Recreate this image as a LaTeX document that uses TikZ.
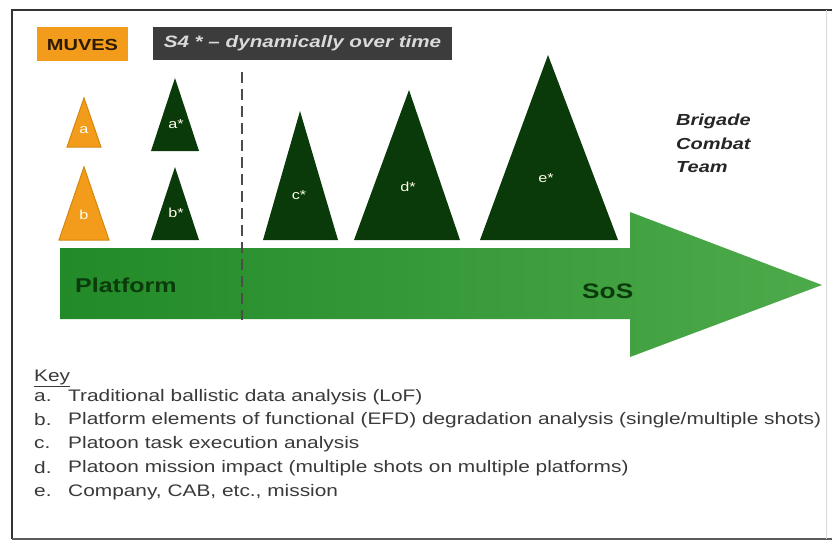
\documentclass[tikz,border=0pt]{standalone}
\usepackage{fontspec}
\setmainfont{Liberation Sans}
\newfontfamily\widesans[FakeStretch=1.25,Ligatures=TeX]{Liberation Sans}
\definecolor{muvesorange}{HTML}{F39C1B}
\definecolor{orangeedge}{HTML}{D4870F}
\definecolor{muvestext}{HTML}{2B1A05}
\definecolor{s4grey}{HTML}{3C3C3C}
\definecolor{s4text}{HTML}{DADADA}
\definecolor{pinegreen}{HTML}{0A3A0A}
\definecolor{arrowdark}{HTML}{228A28}
\definecolor{arrowlight}{HTML}{4DAA4A}
\definecolor{labelgreen}{HTML}{0B3B0B}
\definecolor{keygrey}{HTML}{3A3A3A}
\definecolor{framegrey}{HTML}{333333}
\begin{document}
\begin{tikzpicture}[x=1pt,y=-1pt,
  orangetri/.style={fill=muvesorange,draw=orangeedge,line width=1pt},
  greentri/.style={fill=pinegreen},
  trilabel/.style={text=white!92!yellow,font=\widesans\fontsize{13}{15}\selectfont,inner sep=0pt},
  keyline/.style={anchor=west,text=keygrey,font=\widesans\fontsize{16.7}{19}\selectfont,inner sep=0pt},
  bandlabel/.style={anchor=west,text=labelgreen,font=\widesans\bfseries\fontsize{20}{24}\selectfont,inner sep=0pt},
  tag/.style={anchor=center,inner sep=0pt}]
\useasboundingbox (0,0) rectangle (832,542);
\fill[white] (0,0) rectangle (832,542);

% outer frame
\draw[line width=2.4pt,framegrey] (12,539) -- (12,10) -- (832,10);
\draw[line width=1.6pt,framegrey!80] (12,539) -- (832,539);
\draw[line width=0.8pt,black!15] (826,10) -- (826,539);

% header tags
\fill[muvesorange] (37,27) rectangle (128,61);
\node[tag,text=muvestext,font=\widesans\bfseries\fontsize{16}{19}\selectfont] (muves) at (82.5,44.5) {MUVES};
\fill[s4grey] (153,27) rectangle (452,60);
\node[tag,text=s4text,font=\widesans\bfseries\itshape\fontsize{16.5}{19}\selectfont] (s4) at (302.5,43.5) {S4 * – dynamically over time};

% big progression arrow
\shade[left color=arrowdark,right color=arrowlight]
  (60,248) -- (630,248) -- (630,212) -- (822,285) -- (630,357) -- (630,319) -- (60,319) -- cycle;
\node[bandlabel] (platform) at (75,285) {Platform};
\node[bandlabel,font=\widesans\bfseries\fontsize{21}{24}\selectfont] (sos) at (582,291) {SoS};

% boundary between platform and system of systems
\draw[line width=2pt,black!70,dash pattern=on 11pt off 6pt] (242,72) -- (242,320);

% MUVES triangles
\path[orangetri] (84,98) -- (101,147) -- (67,147) -- cycle;
\node[trilabel] (la) at (84,130) {a};
\path[orangetri] (84,167) -- (109,240) -- (59,240) -- cycle;
\node[trilabel] (lb) at (84,215) {b};

% S4 triangles
\path[greentri] (175,78) -- (199,151) -- (151,151) -- cycle;
\node[trilabel] (las) at (176,124) {a*};
\path[greentri] (175,167) -- (199,240) -- (151,240) -- cycle;
\node[trilabel] (lbs) at (176,213) {b*};
\path[greentri] (300,111) -- (338,240) -- (263,240) -- cycle;
\node[trilabel] (lcs) at (299,195) {c*};
\path[greentri] (409,90) -- (460,240) -- (354,240) -- cycle;
\node[trilabel] (lds) at (408,187) {d*};
\path[greentri] (548,55) -- (618,240) -- (480,240) -- cycle;
\node[trilabel] (les) at (546,178) {e*};

% echelon label
\node[anchor=north west,align=left,inner sep=0pt,text=black!85,
      font=\widesans\bfseries\itshape\fontsize{16}{23.5}\selectfont] (bct) at (676,114)
  {Brigade\\Combat\\Team};

% key
\node[keyline] (key) at (34,378) {\underline{Key}};
\node[keyline] (ka) at (34,397) {a.};
\node[keyline] (kta) at (68,397) {Traditional ballistic data analysis (LoF)};
\node[keyline] (kb) at (34,420) {b.};
\node[keyline] (ktb) at (68,420) {Platform elements of functional (EFD) degradation analysis (single/multiple shots)};
\node[keyline] (kc) at (34,444) {c.};
\node[keyline] (ktc) at (68,444) {Platoon task execution analysis};
\node[keyline] (kd) at (34,468) {d.};
\node[keyline] (ktd) at (68,468) {Platoon mission impact (multiple shots on multiple platforms)};
\node[keyline] (ke) at (34,492) {e.};
\node[keyline] (kte) at (68,492) {Company, CAB, etc., mission};
\end{tikzpicture}
\end{document}
